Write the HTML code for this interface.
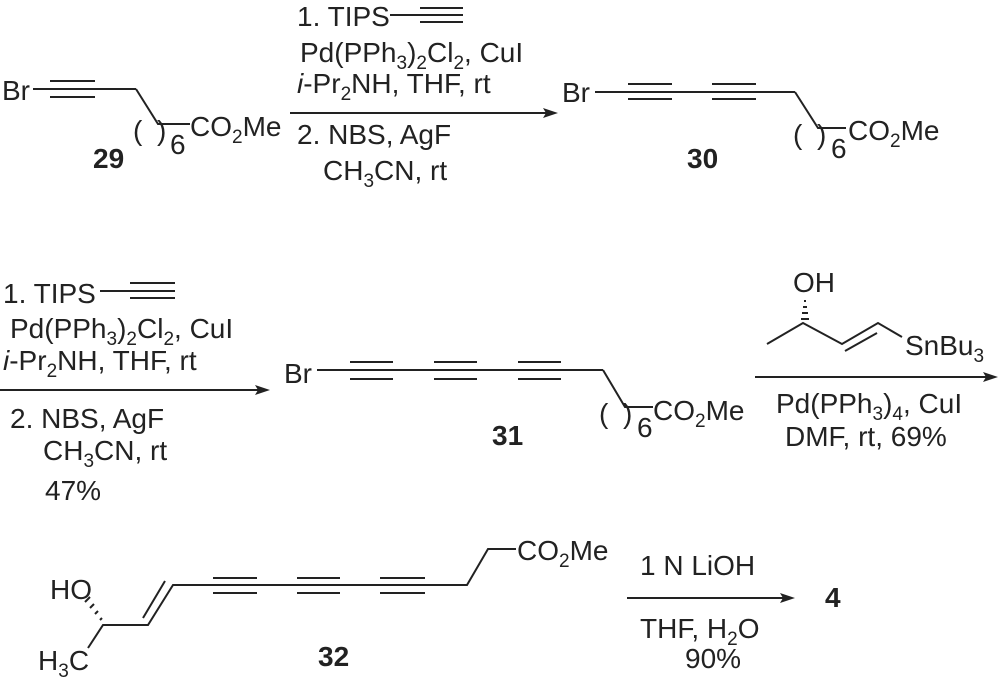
<!DOCTYPE html>
<html><head><meta charset="utf-8"><style>
html,body{margin:0;padding:0;background:#fff;}
svg{display:block;}
text{font-family:"Liberation Sans",Arial,sans-serif;font-size:28px;fill:#222;}
.b{font-weight:bold;}
.s{font-size:19px;}
line,polyline{stroke:#222;stroke-width:2;fill:none;}
</style></head><body>
<svg width="1000" height="686" viewBox="0 0 1000 686" xmlns="http://www.w3.org/2000/svg">
<!-- 29 -->
<text x="2" y="100">Br</text>
<line x1="33" y1="89" x2="136" y2="89"/>
<line x1="50" y1="81" x2="95" y2="81"/>
<line x1="50" y1="97" x2="95" y2="97"/>
<polyline points="136,89 158,124 190,124"/>
<text x="133" y="140">(</text>
<text x="157" y="140">)</text>
<text x="170" y="154">6</text>
<text x="190" y="136">CO<tspan class="s" dy="7">2</tspan><tspan dy="-7">Me</tspan></text>
<text class="b" x="93" y="168">29</text>
<!-- arrow 1 -->
<text x="297" y="26">1. TIPS</text>
<line x1="390" y1="15" x2="463" y2="15"/>
<line x1="420" y1="8" x2="463" y2="8"/>
<line x1="420" y1="22" x2="463" y2="22"/>
<text x="300" y="62">Pd(PPh<tspan class="s" dy="7">3</tspan><tspan dy="-7">)</tspan><tspan class="s" dy="7">2</tspan><tspan dy="-7">Cl</tspan><tspan class="s" dy="7">2</tspan><tspan dy="-7">, CuI</tspan></text>
<text x="297" y="93"><tspan font-style="italic">i</tspan>-Pr<tspan class="s" dy="7">2</tspan><tspan dy="-7">NH, THF, rt</tspan></text>
<line x1="290" y1="113" x2="546" y2="113"/>
<polygon points="558,113 543,108 546,113 543,118" fill="#222"/>
<text x="297" y="144">2. NBS, AgF</text>
<text x="323" y="180">CH<tspan class="s" dy="7">3</tspan><tspan dy="-7">CN, rt</tspan></text>
<!-- 30 -->
<text x="562" y="102">Br</text>
<line x1="595" y1="92" x2="795" y2="92"/>
<line x1="628" y1="84" x2="672" y2="84"/><line x1="628" y1="99" x2="672" y2="99"/>
<line x1="712" y1="84" x2="756" y2="84"/><line x1="712" y1="99" x2="756" y2="99"/>
<polyline points="795,92 818,128 846,128"/>
<text x="793" y="144">(</text>
<text x="817" y="144">)</text>
<text x="831" y="158">6</text>
<text x="848" y="140">CO<tspan class="s" dy="7">2</tspan><tspan dy="-7">Me</tspan></text>
<text class="b" x="687" y="168">30</text>
<!-- arrow 2 -->
<text x="3" y="303">1. TIPS</text>
<line x1="100" y1="291" x2="175" y2="291"/>
<line x1="130" y1="283" x2="175" y2="283"/>
<line x1="130" y1="298" x2="175" y2="298"/>
<text x="10" y="338">Pd(PPh<tspan class="s" dy="7">3</tspan><tspan dy="-7">)</tspan><tspan class="s" dy="7">2</tspan><tspan dy="-7">Cl</tspan><tspan class="s" dy="7">2</tspan><tspan dy="-7">, CuI</tspan></text>
<text x="3" y="370"><tspan font-style="italic">i</tspan>-Pr<tspan class="s" dy="7">2</tspan><tspan dy="-7">NH, THF, rt</tspan></text>
<line x1="0" y1="390" x2="258" y2="390"/>
<polygon points="270,390 255,385 258,390 255,395" fill="#222"/>
<text x="10" y="428">2. NBS, AgF</text>
<text x="43" y="460">CH<tspan class="s" dy="7">3</tspan><tspan dy="-7">CN, rt</tspan></text>
<text x="45" y="500">47%</text>
<!-- 31 -->
<text x="284" y="383">Br</text>
<line x1="317" y1="370" x2="603" y2="370"/>
<line x1="350" y1="362" x2="393" y2="362"/><line x1="350" y1="379" x2="393" y2="379"/>
<line x1="434" y1="362" x2="477" y2="362"/><line x1="434" y1="379" x2="477" y2="379"/>
<line x1="518" y1="362" x2="561" y2="362"/><line x1="518" y1="379" x2="561" y2="379"/>
<polyline points="603,370 625,407 653,407"/>
<text x="599" y="423">(</text>
<text x="623" y="423">)</text>
<text x="637" y="437">6</text>
<text x="653" y="420">CO<tspan class="s" dy="7">2</tspan><tspan dy="-7">Me</tspan></text>
<text class="b" x="492" y="445">31</text>
<!-- arrow 3 -->
<text x="793" y="292">OH</text>
<line x1="804" y1="301" x2="806" y2="301"/>
<line x1="803" y1="307" x2="807" y2="307"/>
<line x1="802" y1="313" x2="808" y2="313"/>
<line x1="801" y1="319" x2="809" y2="319"/>
<polyline points="767,344 803,323 842,344 878,323 902,337"/>
<line x1="845" y1="351" x2="877" y2="333"/>
<text x="905" y="355">SnBu<tspan class="s" dy="7">3</tspan></text>
<line x1="755" y1="377" x2="986" y2="377"/>
<polygon points="998,377 983,372 986,377 983,382" fill="#222"/>
<text x="776" y="413">Pd(PPh<tspan class="s" dy="7">3</tspan><tspan dy="-7">)</tspan><tspan class="s" dy="7">4</tspan><tspan dy="-7">, CuI</tspan></text>
<text x="785" y="446">DMF, rt, 69%</text>
<!-- 32 -->
<text x="50" y="599">HO</text>
<line x1="100" y1="620" x2="102" y2="618"/>
<line x1="95" y1="614" x2="98" y2="611"/>
<line x1="90" y1="608" x2="94" y2="604"/>
<line x1="85" y1="602" x2="90" y2="597"/>
<polyline points="88,648 103,625 148,625 173,585 467,585 488,549 516,549"/>
<line x1="143" y1="618" x2="165" y2="581"/>
<line x1="213" y1="578" x2="257" y2="578"/><line x1="213" y1="593" x2="257" y2="593"/>
<line x1="297" y1="578" x2="340" y2="578"/><line x1="297" y1="593" x2="340" y2="593"/>
<line x1="380" y1="578" x2="425" y2="578"/><line x1="380" y1="593" x2="425" y2="593"/>
<text x="517" y="560">CO<tspan class="s" dy="7">2</tspan><tspan dy="-7">Me</tspan></text>
<text x="38" y="670">H<tspan class="s" dy="7">3</tspan><tspan dy="-7">C</tspan></text>
<text class="b" x="318" y="666">32</text>
<!-- arrow 4 -->
<text x="640" y="575">1 N LiOH</text>
<line x1="627" y1="598" x2="783" y2="598"/>
<polygon points="795,598 780,593 783,598 780,603" fill="#222"/>
<text x="640" y="638">THF, H<tspan class="s" dy="7">2</tspan><tspan dy="-7">O</tspan></text>
<text x="685" y="668">90%</text>
<text class="b" x="825" y="607">4</text>
</svg>
</body></html>
